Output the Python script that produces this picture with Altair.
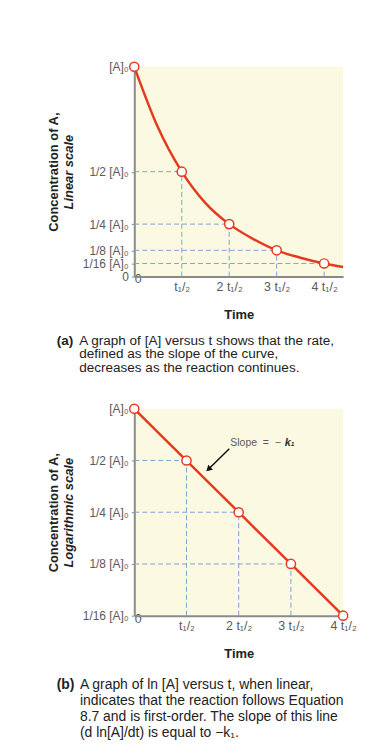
import altair as alt
import pandas as pd

# ---------------- data ----------------
half_lives = [0, 1, 2, 3, 4]
concentration = [1.0, 0.5, 0.25, 0.125, 0.0625]

curve_time = [0, 0.5, 1, 1.5, 2, 2.5, 3, 3.5, 4, 4.4]
curve_conc = [1.0, 0.71, 0.5, 0.35, 0.25, 0.18, 0.125, 0.09, 0.0625, 0.046]

x_tick_values = [0, 1, 2, 3, 4]
x_tick_labels = ["0", "t\u2081/\u2082", "2 t\u2081/\u2082", "3 t\u2081/\u2082", "4 t\u2081/\u2082"]

ya_tick_values = [0, 0.0625, 0.125, 0.25, 0.5, 1]
ya_tick_labels = ["0", "1/16 [A]\u2080", "1/8 [A]\u2080", "1/4 [A]\u2080", "1/2 [A]\u2080", "[A]\u2080"]

yb_tick_values = [0.0625, 0.125, 0.25, 0.5, 1]
yb_tick_labels = ["1/16 [A]\u2080", "1/8 [A]\u2080", "1/4 [A]\u2080", "1/2 [A]\u2080", "[A]\u2080"]

arrow_time = [1.82, 1.42]
arrow_conc = [0.585, 0.445]
slope_text_time = [1.84, 2.88]
slope_text_conc = [0.636, 0.636]
slope_text = ["Slope\u00a0\u00a0=\u00a0\u00a0\u2212", "k\u2081"]

caption_a = ["A graph of [A] versus t shows that the rate,",
             "defined as the slope of the curve,",
             "decreases as the reaction continues."]
caption_b = ["A graph of ln [A] versus t, when linear,",
             "indicates that the reaction follows Equation",
             "8.7 and is first-order. The slope of this line",
             "(d ln[A]/dt) is equal to \u2212k\u2081."]

# ---------------- styles ----------------
FONT = "Liberation Sans"
RED = "#e53a20"
BLUE = "#7fa2d4"
AXIS = "#8a8a8a"
BG = "#fcf9e2"
LABEL = "#5a5a5a"
DARK = "#222222"
INDENT = "\u200b" + "\u00a0" * 6


def label_expr(values, labels):
    parts = [f"abs(datum.value - ({v})) < 1e-6 ? '{l}' : " for v, l in zip(values, labels)]
    return "".join(parts) + "''"


def panel(kind):
    log = kind == "b"
    if log:
        xs = alt.Scale(domain=[0, 4], nice=False, zero=False)
        ys = alt.Scale(type="log", base=2, domain=[0.0625, 1], nice=False)
        yvals, ylabs = yb_tick_values, yb_tick_labels
        inner_title = "Logarithmic scale"
        height = 208
        caption = caption_b
        tag = "(b)"
        line_df = pd.DataFrame({"t": half_lives, "c": concentration})
        n_guides = 3
        bottom = 0.0625
        lh = 16.3
        cap_offset = 17
        cap_size = 14
        zero_pad = -3
    else:
        xs = alt.Scale(domain=[0, 4.4], nice=False, zero=False)
        ys = alt.Scale(domain=[0, 1], nice=False)
        yvals, ylabs = ya_tick_values, ya_tick_labels
        inner_title = "Linear scale"
        height = 211
        caption = caption_a
        tag = "(a)"
        line_df = pd.DataFrame({"t": curve_time, "c": curve_conc})
        n_guides = 4
        bottom = 0.0
        lh = 13.5
        cap_offset = 12
        cap_size = 13.6
        zero_pad = -4

    x_axis = alt.Axis(
        values=x_tick_values, labelExpr=label_expr(x_tick_values, x_tick_labels),
        title="Time", titleFont=FONT, titleFontSize=13, titleFontWeight="bold",
        titleColor=DARK, titlePadding=16,
        labelFont=FONT, labelFontSize=12.5, labelColor=LABEL, labelFlush=False,
        labelPadding={"condition": {"test": "datum.value == 0", "value": zero_pad}, "value": 4},
        labelAlign={"condition": {"test": "datum.value == 0", "value": "left"}, "value": "center"},
        ticks=False, domainColor=AXIS, domainWidth=2, grid=False,
    )
    y_axis = alt.Axis(
        orient="left", values=yvals, labelExpr=label_expr(yvals, ylabs),
        title=inner_title, titleFont=FONT, titleFontSize=13, titleFontWeight="bold",
        titleFontStyle="italic", titleColor=DARK, titlePadding=7,
        minExtent=52, maxExtent=52,
        labelFont=FONT, labelFontSize=12, labelColor=LABEL, labelPadding=3,
        tickColor=AXIS, tickSize=3, domainColor=AXIS, domainWidth=2, grid=False,
    )
    X = alt.X("t:Q", scale=xs, axis=x_axis)
    Y = alt.Y("c:Q", scale=ys, axis=y_axis)

    pts = pd.DataFrame({"t": half_lives, "c": concentration})
    h_df = pd.DataFrame({"t": [0] * n_guides,
                         "t_end": half_lives[1:1 + n_guides],
                         "c": concentration[1:1 + n_guides]})
    v_df = pd.DataFrame({"t": half_lives[1:1 + n_guides],
                         "c": [bottom] * n_guides,
                         "c_end": concentration[1:1 + n_guides]})

    h_rules = alt.Chart(h_df).mark_rule(color=BLUE, strokeWidth=1, strokeDash=[5, 3]).encode(
        x=X, x2="t_end:Q", y=Y)
    v_rules = alt.Chart(v_df).mark_rule(color=BLUE, strokeWidth=1, strokeDash=[5, 3]).encode(
        x=X, y=Y, y2="c_end:Q")
    line = alt.Chart(line_df).mark_line(color=RED, strokeWidth=2.5,
                                        interpolate="monotone" if not log else "linear").encode(
        x=X, y=Y)
    points = alt.Chart(pts).mark_point(shape="circle", filled=True, fill="white", stroke=RED,
                                       strokeWidth=1.5, size=85, opacity=1).encode(x=X, y=Y)
    layers = [h_rules, v_rules, line, points]

    if log:
        arr = pd.DataFrame({"t": arrow_time, "c": arrow_conc})
        arrow_line = alt.Chart(arr).mark_line(color="#111111", strokeWidth=1.5).encode(x=X, y=Y)
        head = alt.Chart(arr.iloc[[1]]).mark_point(shape="triangle-up", filled=True,
                                                    color="#111111", size=45, angle=228,
                                                    opacity=1).encode(x=X, y=Y)
        st = pd.DataFrame({"t": slope_text_time[:1], "c": slope_text_conc[:1], "s": slope_text[:1]})
        sk = pd.DataFrame({"t": slope_text_time[1:], "c": slope_text_conc[1:], "s": slope_text[1:]})
        slope1 = alt.Chart(st).mark_text(align="left", baseline="middle", font=FONT, fontSize=10.5,
                                         color=LABEL).encode(x=X, y=Y, text="s:N")
        slope2 = alt.Chart(sk).mark_text(align="left", baseline="middle", font=FONT, fontSize=11,
                                         fontStyle="italic", fontWeight="bold",
                                         color="#333333").encode(x=X, y=Y, text="s:N")
        layers = [h_rules, v_rules, line, arrow_line, head, slope1, slope2, points]

    inner = alt.layer(*layers)

    outer_axis = alt.Axis(orient="left", labels=False, ticks=False, domain=False, grid=False,
                          title="Concentration of A,", titleFont=FONT, titleFontSize=13,
                          titleFontWeight="bold", titleColor=DARK, titlePadding=74,
                          minExtent=0, maxExtent=0)
    dummy = alt.Chart(pts).mark_point(opacity=0).encode(
        y=alt.Y("c:Q", scale=ys, axis=outer_axis))

    return alt.layer(inner, dummy).resolve_scale(y="independent").properties(
        width=210, height=height,
        title=alt.TitleParams(
            text=tag, subtitle=[INDENT + s for s in caption],
            orient="bottom", anchor="start", frame="group", align="left", dx=-78,
            offset=cap_offset,
            font=FONT, fontSize=cap_size, fontWeight="bold", color=DARK,
            subtitleFont=FONT, subtitleFontSize=cap_size, subtitleColor=DARK,
            subtitleLineHeight=lh, subtitlePadding=-cap_size,
        ),
    )


chart = alt.vconcat(panel("a"), panel("b"), spacing=26).properties(
    padding={"top": 49, "left": 40, "right": 5, "bottom": 5}
).configure_view(fill=BG, stroke=None)

chart.save("out.html", embed_options={"renderer": "svg", "actions": False})
